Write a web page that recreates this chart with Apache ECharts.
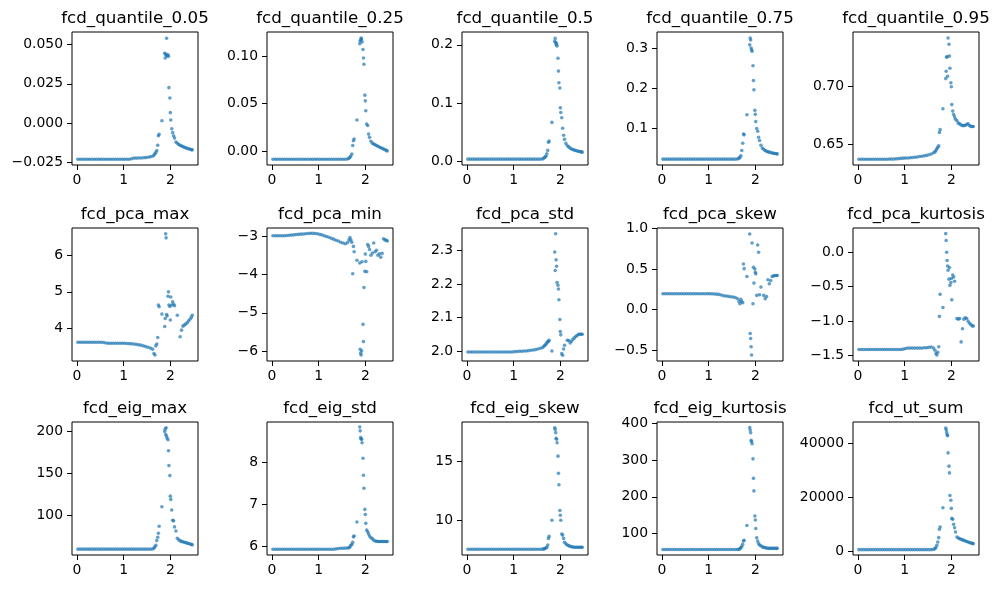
<!DOCTYPE html>
<html>
<head>
<meta charset="utf-8">
<script src="https://cdn.jsdelivr.net/npm/echarts@6/dist/echarts.min.js"></script>
<style>
  html, body { margin: 0; padding: 0; background: #fff; }
  #chart { width: 999px; height: 590px; }
</style>
</head>
<body>
<div id="chart"></div>
<script>
// shared sweep parameter (x) for every panel
const xs = [
  0.02, 0.07, 0.12, 0.17, 0.22, 0.27, 0.32, 0.37, 0.42, 0.47, 0.52,
  0.57, 0.62, 0.67, 0.72, 0.77, 0.82, 0.87, 0.92, 0.97, 1.02, 1.07,
  1.12, 1.17, 1.22, 1.27, 1.32, 1.37, 1.42, 1.47, 1.52, 1.57, 1.62,
  1.65, 1.67, 1.69, 1.71, 1.73, 1.745, 1.76, 1.82,
  1.88, 1.89, 1.90, 1.91, 1.92, 1.93, 1.95, 1.96, 1.97, 1.99, 2.00, 2.01,
  2.03, 2.05, 2.07, 2.09, 2.12, 2.15, 2.18, 2.21, 2.24, 2.27, 2.30, 2.33, 2.36, 2.39, 2.42, 2.45, 2.47
];

const titles = [
  'fcd_quantile_0.05', 'fcd_quantile_0.25', 'fcd_quantile_0.5', 'fcd_quantile_0.75', 'fcd_quantile_0.95',
  'fcd_pca_max', 'fcd_pca_min', 'fcd_pca_std', 'fcd_pca_skew', 'fcd_pca_kurtosis',
  'fcd_eig_max', 'fcd_eig_std', 'fcd_eig_skew', 'fcd_eig_kurtosis', 'fcd_ut_sum'
];

const q05 = [
  -0.0229, -0.0229, -0.0229, -0.0229, -0.0229, -0.0229, -0.0229, -0.0229, -0.0229, -0.0229, -0.0229,
  -0.0229, -0.0229, -0.0229, -0.0229, -0.0229, -0.0229, -0.0229, -0.0229, -0.0229, -0.0229, -0.0229,
  -0.0229, -0.0226, -0.0222, -0.0222, -0.0221, -0.0221, -0.0220, -0.0219, -0.0217, -0.0214, -0.0210,
  -0.0202, -0.0195, -0.0186, -0.0174, -0.0140, -0.0080, -0.0070, 0.0015,
  0.0445, 0.0415, 0.0440, 0.0432, 0.0540, 0.0428, 0.0435, 0.0425, 0.0226, 0.0160, 0.0067, 0.0020,
  -0.0035, -0.0060, -0.0080, -0.0095, -0.0120, -0.0128, -0.0136, -0.0141, -0.0145, -0.0149, -0.0153, -0.0157, -0.0160, -0.0163, -0.0166, -0.0168, -0.0170
];
const q25 = [
  -0.0084, -0.0084, -0.0084, -0.0084, -0.0084, -0.0084, -0.0084, -0.0084, -0.0084, -0.0084, -0.0084,
  -0.0084, -0.0084, -0.0084, -0.0084, -0.0084, -0.0084, -0.0084, -0.0084, -0.0084, -0.0084, -0.0084,
  -0.0084, -0.0084, -0.0084, -0.0084, -0.0084, -0.0084, -0.0084, -0.0084, -0.0084, -0.0084, -0.0082,
  -0.0074, -0.0064, -0.0050, -0.0030, 0.0060, 0.0110, 0.0129, 0.0328,
  0.1130, 0.1160, 0.1170, 0.1190, 0.1180, 0.1150, 0.1070, 0.0980, 0.0915, 0.0590, 0.0530, 0.0425,
  0.0286, 0.0270, 0.0180, 0.0146, 0.0105, 0.0085, 0.0075, 0.0068, 0.0060, 0.0052, 0.0044, 0.0037, 0.0030, 0.0023, 0.0016, 0.0009, 0.0002
];
const q50 = [
  0.004, 0.004, 0.004, 0.004, 0.004, 0.004, 0.004, 0.004, 0.004, 0.004, 0.004,
  0.004, 0.004, 0.004, 0.004, 0.004, 0.004, 0.004, 0.004, 0.004, 0.004, 0.004,
  0.004, 0.004, 0.004, 0.004, 0.004, 0.004, 0.004, 0.004, 0.004, 0.004, 0.0045,
  0.0060, 0.0075, 0.0090, 0.0130, 0.0190, 0.0330, 0.0350, 0.0670,
  0.206, 0.211, 0.204, 0.200, 0.202, 0.198, 0.177, 0.155, 0.135, 0.126, 0.092, 0.084,
  0.075, 0.057, 0.045, 0.038, 0.031, 0.027, 0.025, 0.023, 0.0215, 0.0205, 0.0195, 0.0188, 0.0180, 0.0175, 0.0170, 0.0165, 0.0160
];
const q75 = [
  0.0235, 0.0235, 0.0235, 0.0235, 0.0235, 0.0235, 0.0235, 0.0235, 0.0235, 0.0235, 0.0235,
  0.0235, 0.0235, 0.0235, 0.0235, 0.0235, 0.0235, 0.0235, 0.0235, 0.0235, 0.0235, 0.0235,
  0.0235, 0.0235, 0.0235, 0.0235, 0.0235, 0.0235, 0.0235, 0.0235, 0.0235, 0.0235, 0.024,
  0.026, 0.028, 0.032, 0.045, 0.063, 0.086, 0.084, 0.134,
  0.308, 0.325, 0.320, 0.300, 0.296, 0.292, 0.256, 0.219, 0.196, 0.145, 0.135, 0.117,
  0.100, 0.093, 0.078, 0.070, 0.058, 0.051, 0.048, 0.045, 0.043, 0.042, 0.041, 0.040, 0.039, 0.038, 0.0375, 0.037, 0.0366
];
const q95 = [
  0.6374, 0.6374, 0.6374, 0.6374, 0.6374, 0.6374, 0.6374, 0.6374, 0.6374, 0.6374, 0.6374,
  0.6374, 0.6374, 0.6376, 0.6376, 0.6376, 0.6378, 0.6380, 0.6382, 0.6384, 0.6386, 0.6386,
  0.6388, 0.6390, 0.6392, 0.6394, 0.6398, 0.6400, 0.6404, 0.6408, 0.6414, 0.6420, 0.6430,
  0.6438, 0.6450, 0.6465, 0.6477, 0.6490, 0.6606, 0.6630, 0.6810,
  0.7070, 0.7134, 0.7254, 0.7260, 0.7090, 0.7420, 0.7366, 0.7265, 0.7160, 0.7034, 0.7000, 0.6846,
  0.6790, 0.6760, 0.6740, 0.6720, 0.6706, 0.6686, 0.6680, 0.6670, 0.6665, 0.6665, 0.6668, 0.6675, 0.6680, 0.6665, 0.6658, 0.6657, 0.6657
];
const pcaMax = [
  3.62, 3.62, 3.62, 3.62, 3.62, 3.62, 3.62, 3.62, 3.62, 3.62, 3.62,
  3.61, 3.60, 3.59, 3.59, 3.59, 3.59, 3.59, 3.59, 3.59, 3.59, 3.585,
  3.58, 3.575, 3.57, 3.56, 3.55, 3.54, 3.52, 3.50, 3.48, 3.46, 3.43,
  3.31, 3.27, 3.52, 3.57, 3.75, 4.64, 4.59, 4.39,
  4.05, 4.27, 6.59, 6.48, 4.38, 4.34, 4.88, 5.00, 4.64, 4.60, 4.23, 4.86,
  4.64, 4.73, 4.66, 4.62, null, 4.36, null, 3.77, 3.95, 4.06, 4.09, 4.12, 4.15, 4.20, 4.25, 4.30, 4.36
];
const pcaMin = [
  -2.99, -2.99, -2.99, -2.99, -2.99, -2.99, -2.985, -2.98, -2.975, -2.97, -2.96,
  -2.955, -2.95, -2.945, -2.94, -2.935, -2.93, -2.93, -2.935, -2.94, -2.955, -2.97,
  -2.99, -3.01, -3.03, -3.06, -3.08, -3.11, -3.13, -3.16, -3.18, -3.20, -3.17,
  -3.10, -3.04, -3.10, -3.16, -3.98, -3.27, -3.41, -3.63,
  -3.70, -5.95, -6.05, -6.10, -5.99, -3.67, -5.30, -5.75, -4.34, -3.92, -3.47, -3.66,
  -3.93, -3.22, -3.27, -3.35, -3.50, -3.44, -3.18, -3.41, -3.37, -3.50, -3.46, -3.55, -3.45, -3.07, -3.10, -3.11, -3.13
];
const pcaStd = [
  1.997, 1.997, 1.997, 1.997, 1.997, 1.997, 1.997, 1.997, 1.997, 1.997, 1.997,
  1.997, 1.997, 1.997, 1.997, 1.997, 1.997, 1.997, 1.997, 1.997, 1.998, 1.998,
  1.999, 1.999, 2.000, 2.000, 2.001, 2.002, 2.003, 2.004, 2.006, 2.008, 2.010,
  2.014, 2.017, 2.020, 2.024, 2.027, 2.029, 2.032, 2.000,
  2.295, 2.240, 2.350, 2.272, 2.253, 2.204, 2.196, 2.185, 2.153, 2.094, 2.058, 2.048,
  1.992, 1.987, 2.006, 2.017, null, 2.032, 2.031, 2.024, 2.029, 2.035, 2.039, 2.043, 2.046, 2.050, 2.050, 2.050, 2.050
];
const pcaSkew = [
  0.196, 0.196, 0.196, 0.196, 0.196, 0.196, 0.196, 0.196, 0.196, 0.196, 0.196,
  0.196, 0.196, 0.196, 0.196, 0.196, 0.196, 0.196, 0.196, 0.196, 0.195, 0.194,
  0.193, 0.190, 0.187, 0.180, 0.171, 0.167, 0.163, 0.159, 0.155, 0.148, 0.134,
  0.100, 0.073, 0.126, 0.100, 0.085, 0.562, 0.504, 0.407,
  0.930, -0.293, -0.355, -0.456, -0.558, 0.820, 0.073, 0.520, 0.326, 0.500, 0.460, 0.440,
  0.175, 0.795, 0.705, 0.183, 0.277, null, 0.175, 0.134, 0.160, 0.367, 0.318, 0.359, 0.407, 0.415, 0.420, 0.420, 0.420
];
const pcaKurt = [
  -1.41, -1.41, -1.41, -1.41, -1.41, -1.41, -1.41, -1.41, -1.41, -1.41, -1.41,
  -1.41, -1.41, -1.41, -1.41, -1.41, -1.41, -1.41, -1.41, -1.405, -1.395, -1.39,
  -1.39, -1.39, -1.39, -1.39, -1.39, -1.39, -1.385, -1.385, -1.38, -1.375, -1.39,
  -1.42, -1.47, -1.49, -1.45, -1.37, -0.93, -0.61, -0.80,
  0.27, 0.17, 0.00, -0.12, -0.20, -0.26, -0.39, -0.22, -0.48, -0.44, -0.38, -0.69,
  -0.33, -0.36, -0.42, null, -0.96, -0.97, -0.96, -1.30, -1.11, -0.97, -0.95, -0.96, -1.00, -1.03, -1.05, -1.07, -1.07
];
const eigMax = [
  59.3, 59.3, 59.3, 59.3, 59.3, 59.3, 59.3, 59.3, 59.3, 59.3, 59.3,
  59.3, 59.3, 59.3, 59.3, 59.3, 59.3, 59.3, 59.3, 59.3, 59.3, 59.3,
  59.3, 59.3, 59.3, 59.3, 59.3, 59.3, 59.3, 59.3, 59.3, 59.3, 59.5,
  60.5, 62.0, 64.0, 69.5, 73.5, 78.3, 86.5, 109.9,
  199.6, 202.4, 196.0, 204.0, 194.2, 191.7, 189.7, 176.7, 158.9, 147.0, 122.5, 118.6,
  105.9, 93.7, 93.0, 85.8, 81.0, 72.3, 70.5, 69.1, 68.5, 68.0, 67.5, 67.0, 66.5, 66.0, 65.5, 65.0, 64.4
];
const eigStd = [
  5.937, 5.937, 5.937, 5.937, 5.937, 5.937, 5.937, 5.937, 5.937, 5.937, 5.937,
  5.937, 5.937, 5.937, 5.937, 5.937, 5.937, 5.937, 5.937, 5.937, 5.937, 5.937,
  5.937, 5.937, 5.937, 5.937, 5.937, 5.945, 5.955, 5.960, 5.960, 5.962, 5.965,
  5.97, 5.99, 6.03, 6.05, 6.10, 6.23, 6.25, 6.58,
  8.83, 8.74, 8.58, 8.55, 8.54, 8.46, 8.09, 7.69, 7.38, 6.88, 6.76, 6.55,
  6.39, 6.35, 6.30, 6.25, 6.21, 6.19, 6.15, 6.13, 6.125, 6.12, 6.12, 6.12, 6.12, 6.12, 6.12, 6.12, 6.12
];
const eigSkew = [
  7.49, 7.49, 7.49, 7.49, 7.49, 7.49, 7.49, 7.49, 7.49, 7.49, 7.49,
  7.49, 7.49, 7.49, 7.49, 7.49, 7.49, 7.49, 7.49, 7.49, 7.49, 7.49,
  7.49, 7.49, 7.49, 7.49, 7.49, 7.49, 7.49, 7.49, 7.49, 7.49, 7.50,
  7.52, 7.55, 7.60, 7.66, 7.85, 8.42, 8.59, 9.97,
  17.88, 17.74, 17.46, 16.98, 16.90, 16.60, 15.45, 13.98, 13.00, 10.80, 10.40, 9.97,
  8.79, 8.70, 8.42, 8.08, 7.95, 7.86, 7.80, 7.74, 7.70, 7.68, 7.66, 7.66, 7.66, 7.66, 7.66, 7.66, 7.66
];
const eigKurt = [
  56.8, 56.8, 56.8, 56.8, 56.8, 56.8, 56.8, 56.8, 56.8, 56.8, 56.8,
  56.8, 56.8, 56.8, 56.8, 56.8, 56.8, 56.8, 56.8, 56.8, 56.8, 56.8,
  56.8, 56.8, 56.8, 56.8, 56.8, 56.8, 56.8, 56.8, 56.8, 56.8, 57.0,
  57.5, 59, 62, 65, 71, 80, 82, 122,
  388, 381, 374, 353, 350, 344, 303, 250, 216, 147.7, 137, 114,
  89, 80, 73, 69, 67, 64, 63, 62, 61, 60.5, 60, 60, 60, 60, 60, 60, 60
];
const utSum = [
  490, 490, 490, 490, 490, 490, 490, 490, 490, 490, 490,
  490, 490, 490, 490, 490, 490, 490, 490, 490, 490, 490,
  490, 490, 490, 490, 490, 490, 490, 490, 490, 490, 600,
  860, 1300, 2090, 3320, 4920, 8000, 8860, 16000,
  45500, 44900, 43900, 43000, 42700, 36300, 31400, 28900, 20550, 18800, 15750, 12060,
  11700, 9850, 8600, 7000, 5170, 4800, 4500, 4300, 4100, 3900, 3700, 3500, 3300, 3100, 2950, 2800, 2700
];

const panelValues = [q05, q25, q50, q75, q95, pcaMax, pcaMin, pcaStd, pcaSkew, pcaKurt, eigMax, eigStd, eigSkew, eigKurt, utSum];

// y tick values and decimals shown on each panel
const yTicks = [
  [-0.025, 0, 0.025, 0.05], [0, 0.05, 0.1], [0, 0.1, 0.2], [0.1, 0.2, 0.3], [0.65, 0.7],
  [4, 5, 6], [-6, -5, -4, -3], [2.0, 2.1, 2.2, 2.3], [-0.5, 0, 0.5, 1.0], [-1.5, -1.0, -0.5, 0],
  [100, 150, 200], [6, 7, 8], [10, 15], [100, 200, 300, 400], [0, 20000, 40000]
];
const yDecimals = [3, 2, 1, 1, 2, 0, 0, 1, 1, 1, 0, 0, 0, 0, 0];
const xTicks = [0, 1, 2];

// axis ranges (matplotlib auto margins)
const yRanges = [
  [-0.0266, 0.0580], [-0.0145, 0.1254], [-0.006, 0.222], [0.009, 0.340], [0.6325, 0.7472],
  [3.105, 6.75], [-6.255, -2.79], [1.970, 2.367], [-0.632, 1.004], [-1.577, 0.352],
  [52.3, 210.9], [5.8, 8.95], [7.0, 18.37], [42, 403], [-1500, 47750]
];
const xRange = [-0.107, 2.593];

const colLeft = [72, 267, 462, 657, 853];
const rowTop = [32, 228, 422];
const W = 126, H = 133;
const FONT = 'DejaVu Sans';

const chart = echarts.init(document.getElementById('chart'));

const grids = [], xAxes = [], yAxes = [], series = [], texts = [];
panelValues.forEach((vals, i) => {
  const r = Math.floor(i / 5), c = i % 5;
  grids.push({
    left: colLeft[c], top: rowTop[r], width: W, height: H,
    show: true, borderColor: '#000', borderWidth: 1, backgroundColor: 'transparent'
  });
  xAxes.push({
    gridIndex: i, type: 'value', min: xRange[0], max: xRange[1],
    axisLine: { show: false, onZero: false },
    axisTick: { show: true, length: 5, customValues: xTicks, lineStyle: { color: '#000', width: 1 } },
    axisLabel: {
      customValues: xTicks, color: '#000', fontSize: 13.9, fontFamily: FONT, margin: 8,
      formatter: v => String(v)
    },
    splitLine: { show: false }
  });
  const dec = yDecimals[i];
  yAxes.push({
    gridIndex: i, type: 'value', min: yRanges[i][0], max: yRanges[i][1],
    axisLine: { show: false, onZero: false },
    axisTick: { show: true, length: 5, customValues: yTicks[i], lineStyle: { color: '#000', width: 1 } },
    axisLabel: {
      customValues: yTicks[i], color: '#000', fontSize: 13.9, fontFamily: FONT, margin: 9,
      formatter: v => v.toFixed(dec).replace('-', '\u2212')
    },
    splitLine: { show: false }
  });
  const pts = [];
  xs.forEach((x, k) => { if (vals[k] !== null) pts.push([x, vals[k]]); });
  series.push({
    type: 'scatter', xAxisIndex: i, yAxisIndex: i, data: pts,
    symbolSize: 3.6,
    itemStyle: { color: '#1f77b4', opacity: 0.7 },
    silent: true
  });
  texts.push({
    type: 'text', x: colLeft[c] + W / 2, y: rowTop[r] - 5,
    style: {
      text: titles[i], fill: '#000', font: '16.7px "DejaVu Sans"',
      textAlign: 'center', textVerticalAlign: 'bottom', verticalAlign: 'bottom'
    }
  });
});

chart.setOption({
  animation: false,
  backgroundColor: '#fff',
  grid: grids,
  xAxis: xAxes,
  yAxis: yAxes,
  series: series,
  graphic: texts
});
</script>
</body>
</html>
